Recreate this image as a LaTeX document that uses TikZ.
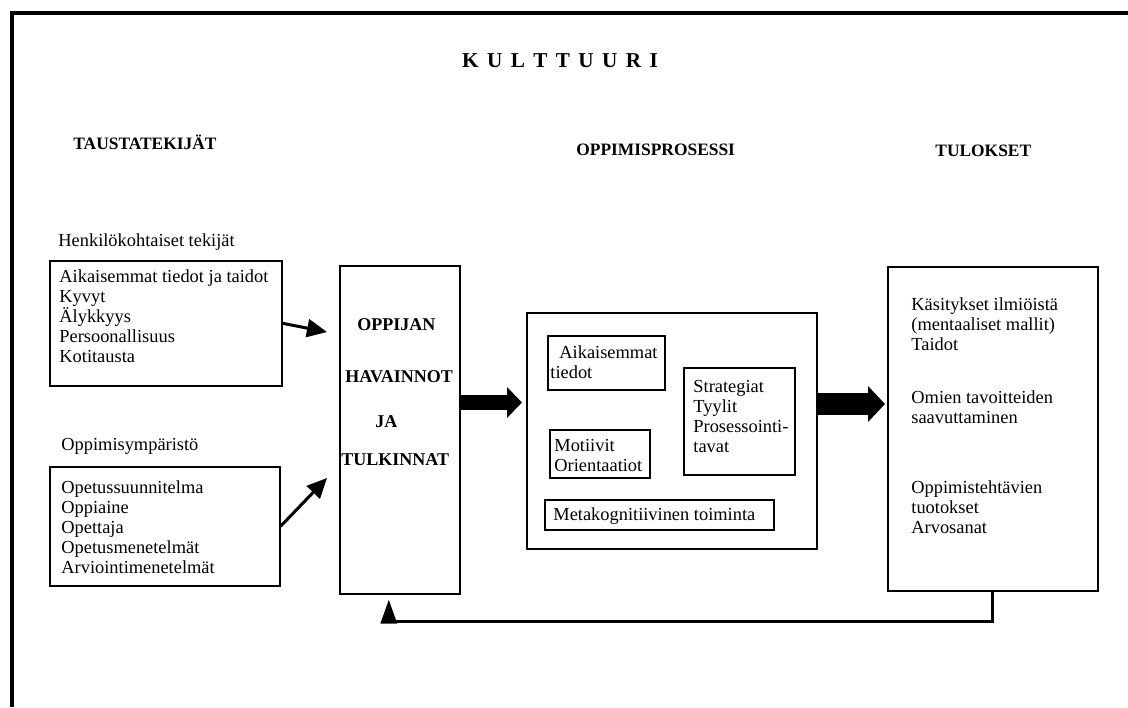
\documentclass[tikz,border=0pt]{standalone}
\usepackage{fontspec}
\setmainfont{Liberation Serif}
\usetikzlibrary{arrows.meta}
\begin{document}
\begin{tikzpicture}[x=0.5pt,y=-0.5pt,font=\fontsize{9.2}{10}\selectfont,line join=miter,
	box/.style={draw,line width=0.8pt,inner sep=0pt,anchor=north west},
	txt/.style={align=left,inner sep=0pt,anchor=north west},
	head/.style={font=\fontsize{8.7}{10}\selectfont\bfseries,inner sep=0pt,anchor=base west},
	caps/.style={font=\fontsize{9}{10}\selectfont\bfseries,inner sep=0pt,anchor=base west},
	pointer/.style={line width=1.5pt,-{Triangle[length=10pt,width=9pt]}},
	fat/.style={line width=7.5pt,-{Triangle[length=7.5pt,width=15pt]}},
	fatter/.style={line width=11pt,-{Triangle[length=8.5pt,width=17.5pt]}}]
	\useasboundingbox (0,0) rectangle (1128,707);
	\draw[line width=2pt] (1128,13)--(12,13)--(12,707);
	\node[inner sep=0pt,anchor=base,font=\fontsize{10.6}{12}\selectfont\bfseries] (kult) at (560,67)
		{K\kern4.2pt U\kern4.2pt L\kern4.2pt T\kern4.2pt T\kern4.2pt U\kern4.2pt U\kern4.2pt R\kern4.2pt I};
	\node[head] (tausta) at (73,149) {TAUSTATEKIJÄT};
	\node[head] (prosessi) at (576,155) {OPPIMISPROSESSI};
	\node[head] (tulokset) at (935,156) {TULOKSET};
	% taustatekijat
	\node[inner sep=0pt,anchor=base west] (henk) at (58,246) {Henkilökohtaiset tekijät};
	\node[box,minimum width=116pt,minimum height=62.5pt] (pers) at (49,260) {};
	\node[txt] (perstxt) at (59,269.5) {Aikaisemmat tiedot ja taidot\\Kyvyt\\Älykkyys\\Persoonallisuus\\Kotitausta};
	\node[inner sep=0pt,anchor=base west] (ymp) at (61,450) {Oppimisympäristö};
	\node[box,minimum width=115pt,minimum height=59.5pt] (env) at (49,466) {};
	\node[txt] (envtxt) at (61,480.5) {Opetussuunnitelma\\Oppiaine\\Opettaja\\Opetusmenetelmät\\Arviointimenetelmät};
	% havainnot
	\node[box,minimum width=60pt,minimum height=164pt] (perc) at (339,265) {};
	\node[caps] (h1) at (357,330) {OPPIJAN};
	\node[caps] (h2) at (345,382) {HAVAINNOT};
	\node[caps] (h3) at (375,427) {JA};
	\node[caps] (h4) at (341,465) {TULKINNAT};
	% prosessi
	\node[box,minimum width=145pt,minimum height=118pt] (proc) at (526,312) {};
	\node[box,minimum width=58.5pt,minimum height=27pt] (prev) at (547,335) {};
	\node[txt] (prevtxt) at (550,345.5) {\hspace*{4.5pt}Aikaisemmat\\tiedot};
	\node[box,minimum width=55.5pt,minimum height=53.5pt] (strat) at (683,367) {};
	\node[txt] (strattxt) at (693,379.5) {Strategiat\\Tyylit\\Prosessointi-\\tavat};
	\node[box,minimum width=50pt,minimum height=24pt] (motiv) at (549,429) {};
	\node[txt] (motivtxt) at (554,438.5) {Motiivit\\Orientaatiot};
	\node[box,minimum width=114.5pt,minimum height=15pt] (meta) at (544,499) {};
	\node[txt] (metatxt) at (553,507.5) {Metakognitiivinen toiminta};
	% tulokset
	\node[box,minimum width=105pt,minimum height=162pt] (res) at (887,266) {};
	\node[txt] (res1) at (911,297.5) {Käsitykset ilmiöistä\\(mentaaliset mallit)\\Taidot};
	\node[txt] (res2) at (911,390.5) {Omien tavoitteiden\\saavuttaminen};
	\node[txt] (res3) at (911,480.5) {Oppimistehtävien\\tuotokset\\Arvosanat};
	% nuolet
	\coordinate (p1) at (327,332);
	\coordinate (p2) at (327,478);
	\coordinate (lvl) at (0,402.5);
	\coordinate (lvl2) at (0,404);
	\draw[pointer] (pers.east)--(p1);
	\draw[pointer] (env.east)--(p2);
	\draw[fat] (perc.east |- lvl)--([xshift=-2pt]proc.west |- lvl);
	\draw[fatter] (proc.east |- lvl2)--([xshift=-1pt]res.west |- lvl2);
	\draw[line width=1.6pt,-{Triangle[length=12pt,width=8pt]},shorten >=2.5pt]
		(res.south)--++(0,30)-|([xshift=-5.5pt]perc.south);
\end{tikzpicture}
\end{document}
